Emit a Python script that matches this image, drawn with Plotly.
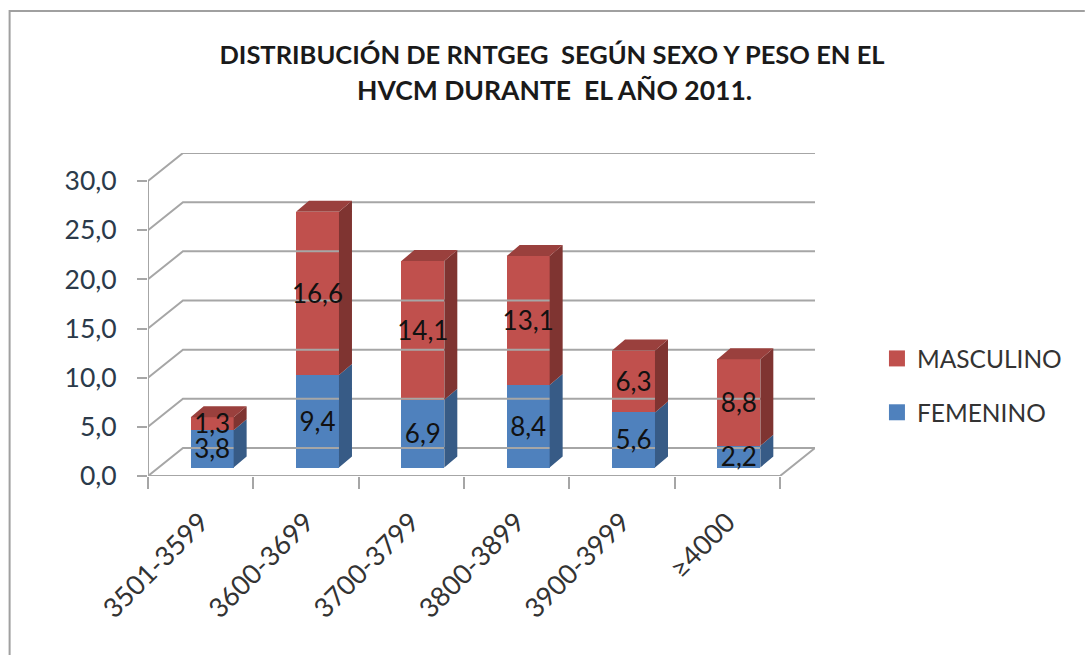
"""3D-look stacked columns: RNTGEG by sex and weight, HVCM 2011."""

import plotly.graph_objects as go

categories = ["3501-3599", "3600-3699", "3700-3799", "3800-3899", "3900-3999", "≥4000"]
femenino = [3.8, 9.4, 6.9, 8.4, 5.6, 2.2]
masculino = [1.3, 16.6, 14.1, 13.1, 6.3, 8.8]
y_ticks = [0, 5, 10, 15, 20, 25, 30]

BLUE, BLUE_SIDE = "#4F81BD", "#375B86"
RED, RED_SIDE, RED_TOP = "#C0504D", "#7F3431", "#9A403D"
GRID = "#A6A6A6"
FONT = "Lato"

# pixel geometry of the chart
WIDTH, HEIGHT = 1085, 655
LEFT, RIGHT, TOP, BOTTOM = 147.5, 815, 153, 476
PX_X = (780 - LEFT) / 6  # px per category
PX_Y = (BOTTOM - 181) / 30  # px per unit

# oblique offsets in data units
wall_dx, wall_dy = 35 / PX_X, 28 / PX_Y
bar_shift_x, bar_shift_y = 11.5 / PX_X, 8.5 / PX_Y
side_dx, side_dy = 13 / PX_X, 11 / PX_Y
bar_width = 43 / PX_X
label_drop = 3 / PX_Y

x_max = (RIGHT - LEFT) / PX_X
y_max = (BOTTOM - TOP) / PX_Y
centers = [i + 0.5 for i in range(len(categories))]
bar_x = [c + bar_shift_x for c in centers]


def polygons(points):
    xs, ys = [], []
    for poly in points:
        xs += [p[0] for p in poly] + [poly[0][0], None]
        ys += [p[1] for p in poly] + [poly[0][1], None]
    return xs, ys


def side_face(x, low, high):
    right = x + bar_width / 2
    return [
        (right, low),
        (right + side_dx, low + side_dy),
        (right + side_dx, high + side_dy),
        (right, high),
    ]


def top_face(x, y):
    left, right = x - bar_width / 2, x + bar_width / 2
    return [
        (left, y),
        (right, y),
        (right + side_dx, y + side_dy),
        (left + side_dx, y + side_dy),
    ]


def polygon_trace(points, color):
    xs, ys = polygons(points)
    return go.Scatter(
        x=xs, y=ys, mode="lines", fill="toself", fillcolor=color,
        line={"width": 0}, hoverinfo="skip", showlegend=False,
    )


fig = go.Figure()

# walls and floor
wall_x, wall_y = [], []
for tick in y_ticks:
    wall_x += [0, wall_dx, x_max, None]
    wall_y += [tick, tick + wall_dy, tick + wall_dy, None]
wall_x += [0, 0, None, 0, 6, x_max]
wall_y += [0, 30, None, 0, 0, wall_dy]
fig.add_scatter(
    x=wall_x, y=wall_y, mode="lines", line={"color": GRID, "width": 2},
    cliponaxis=False, hoverinfo="skip", showlegend=False,
)

# front faces
fem_base = [bar_shift_y] * len(categories)
mas_base = [b + f for b, f in zip(fem_base, femenino)]
tops = [b + m for b, m in zip(mas_base, masculino)]
fig.add_bar(x=bar_x, y=femenino, base=fem_base, width=bar_width,
            marker={"color": BLUE, "line": {"width": 0}}, showlegend=False)
fig.add_bar(x=bar_x, y=masculino, base=mas_base, width=bar_width,
            marker={"color": RED, "line": {"width": 0}}, showlegend=False)

# side and top faces
fig.add_trace(polygon_trace(
    [side_face(x, b, t) for x, b, t in zip(bar_x, fem_base, mas_base)], BLUE_SIDE))
fig.add_trace(polygon_trace(
    [side_face(x, b, t) for x, b, t in zip(bar_x, mas_base, tops)], RED_SIDE))
fig.add_trace(polygon_trace([top_face(x, t) for x, t in zip(bar_x, tops)], RED_TOP))

# data labels
label_font = {"family": FONT, "size": 26, "color": "#111111"}
fig.add_scatter(
    x=bar_x, y=[b + v / 2 - label_drop for b, v in zip(fem_base, femenino)], mode="text",
    text=[f"{v:.1f}".replace(".", ",") for v in femenino],
    textfont=label_font, hoverinfo="skip", showlegend=False,
)
fig.add_scatter(
    x=bar_x, y=[b + v / 2 - label_drop for b, v in zip(mas_base, masculino)], mode="text",
    text=[f"{v:.1f}".replace(".", ",") for v in masculino],
    textfont=label_font, hoverinfo="skip", showlegend=False,
)

# legend entries, square swatches
for name, color in [("MASCULINO", RED), ("FEMENINO", BLUE)]:
    fig.add_scatter(
        x=[None], y=[None], mode="markers", name=name, legendgroup=name,
        marker={"symbol": "square", "size": 16, "color": color},
    )


def paper_x(px):
    return (px - LEFT) / (RIGHT - LEFT)


def paper_y(px):
    return (BOTTOM - px) / (BOTTOM - TOP)


# chart frame, open on the right and bottom
fig.add_shape(
    type="path", xref="paper", yref="paper",
    path=f"M {paper_x(9)} {paper_y(655)} L {paper_x(9)} {paper_y(11)} L {paper_x(1085)} {paper_y(11)}",
    line={"color": "#A0A0A0", "width": 2},
)

fig.add_annotation(
    text="<b>HVCM DURANTE  EL AÑO 2011.</b>",
    xref="paper", yref="paper", x=paper_x(554), y=paper_y(90),
    xanchor="center", yanchor="middle",
    showarrow=False, font={"family": FONT, "size": 26.5, "color": "#1A1A1A"},
)

fig.update_layout(
    width=WIDTH,
    height=HEIGHT,
    margin={"l": LEFT, "r": WIDTH - RIGHT, "t": TOP, "b": HEIGHT - BOTTOM, "autoexpand": False},
    paper_bgcolor="white",
    plot_bgcolor="white",
    barmode="overlay",
    bargap=0,
    separators=",.",
    title={
        "text": "<b>DISTRIBUCIÓN DE RNTGEG  SEGÚN SEXO Y PESO EN EL</b>",
        "x": 552 / WIDTH,
        "xanchor": "center",
        "y": 1 - 55 / HEIGHT,
        "yanchor": "middle",
        "font": {"family": FONT, "size": 25.5, "color": "#1A1A1A"},
    },
    legend={
        "x": paper_x(877),
        "y": paper_y(336),
        "xanchor": "left",
        "yanchor": "top",
        "xref": "paper",
        "yref": "paper",
        "traceorder": "grouped",
        "tracegroupgap": 19,
        "itemwidth": 30,
        "font": {"family": FONT, "size": 24.5, "color": "#333333"},
    },
    xaxis={
        "range": [0, x_max],
        "tickmode": "array",
        "tickvals": centers,
        "ticktext": categories,
        "tickangle": -45,
        "ticks": "",
        "showgrid": False,
        "zeroline": False,
        "showline": False,
        "ticklabelstandoff": 24,
        "tickfont": {"family": FONT, "size": 27, "color": "#333333"},
        "minor": {
            "tickmode": "array",
            "tickvals": list(range(7)),
            "ticks": "outside",
            "ticklen": 12,
            "tickwidth": 2,
            "tickcolor": GRID,
            "showgrid": False,
        },
    },
    yaxis={
        "range": [0, y_max],
        "tickmode": "array",
        "tickvals": y_ticks,
        "tickformat": ".1f",
        "ticks": "outside",
        "ticklen": 10,
        "tickwidth": 2,
        "tickcolor": GRID,
        "showgrid": False,
        "zeroline": False,
        "showline": False,
        "ticklabelstandoff": 15,
        "tickfont": {"family": FONT, "size": 26.5, "color": "#2B3A4A"},
    },
)

fig.write_html(
    "out.html",
    config={"displayModeBar": False},
    post_script="document.body.style.margin='0';",
)
